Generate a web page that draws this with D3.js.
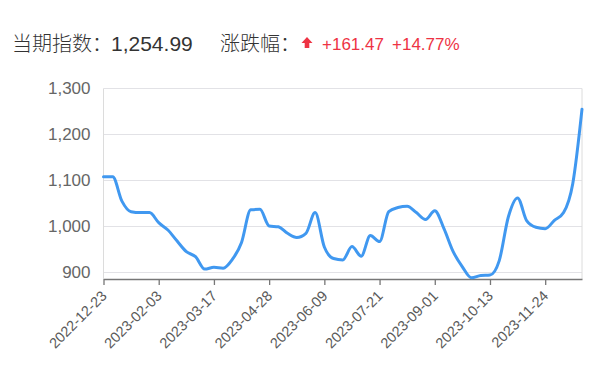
<!DOCTYPE html>
<html>
<head>
<meta charset="utf-8">
<script src="https://cdn.jsdelivr.net/npm/d3@7"></script>
<style>
  body { margin: 0; background: #fff; }
  svg text { font-family: "Helvetica Neue", Arial, "Liberation Sans", "Noto Sans CJK SC", sans-serif; }
</style>
</head>
<body>
<div id="chart"></div>
<script>
// weekly index values, starting 2022-12-23
const startDate = '2022-12-23'
const values = [
  1108, 1108, 1055, 1032, 1030, 1030, 1008, 992, 968, 945,
  934, 907, 911, 909, 928, 965, 1036, 1037, 1001, 999,
  985, 976, 985, 1030, 955, 930, 927, 956, 935, 980,
  967, 1032, 1041, 1044, 1030, 1015, 1034, 995, 945, 912,
  888, 893, 894, 925, 1021, 1062, 1012, 998, 995, 1013,
  1030, 1093.52, 1254.99
]
const tickLabels = ['2022-12-23', '2023-02-03', '2023-03-17', '2023-04-28', '2023-06-09',
  '2023-07-21', '2023-09-01', '2023-10-13', '2023-11-24']
const yTicks = [900, 1000, 1100, 1200, 1300]
const current = '1,254.99'
const change = '+161.47'
const changePct = '+14.77%'

const W = 600, H = 378
const MARGIN = { LEFT: 103.5, RIGHT: 18, TOP: 88.5, BOTTOM: 99 }
const WIDTH = W - MARGIN.LEFT - MARGIN.RIGHT
const HEIGHT = H - MARGIN.TOP - MARGIN.BOTTOM

const parse = d3.timeParse('%Y-%m-%d')
const start = parse(startDate)
const data = values.map((v, i) => ({ date: d3.timeDay.offset(start, 7 * i), value: v }))

const svg = d3.select('#chart').append('svg')
  .attr('width', W)
  .attr('height', H)

// header
const head = svg.append('text').attr('y', 51).attr('fill', '#333')
head.append('tspan').attr('x', 12).attr('font-size', '20px')
  .attr('font-family', '"Noto Sans CJK SC", sans-serif').attr('font-weight', 300).text('当期指数：')
head.append('tspan').attr('x', 111).attr('font-size', '21px').text(current)
head.append('tspan').attr('x', 220).attr('font-size', '20px')
  .attr('font-family', '"Noto Sans CJK SC", sans-serif').attr('font-weight', 300).text('涨跌幅：')

const red = '#ee3344'
svg.append('path')
  .attr('d', 'M307,37 L312.5,43 L309.3,43 L309.3,48 L304.7,48 L304.7,43 L301.5,43 Z')
  .attr('fill', red)
svg.append('text').attr('x', 322).attr('y', 50).attr('font-size', '17px')
  .attr('fill', red).text(change)
svg.append('text').attr('x', 392).attr('y', 50).attr('font-size', '17px')
  .attr('fill', red).text(changePct)

const g = svg.append('g')
  .attr('transform', `translate(${MARGIN.LEFT}, ${MARGIN.TOP})`)

const x = d3.scaleTime()
  .domain(d3.extent(data, d => d.date))
  .range([0, WIDTH])

const y = d3.scaleLinear()
  .domain([885.5, 1300])
  .range([HEIGHT, 0])

// grid lines
g.selectAll('.grid').data(yTicks).enter()
  .append('line')
  .attr('class', 'grid')
  .attr('x1', 0).attr('x2', WIDTH)
  .attr('y1', d => Math.round(y(d)) + 0.5 - MARGIN.TOP % 1)
  .attr('y2', d => Math.round(y(d)) + 0.5 - MARGIN.TOP % 1)
  .attr('stroke', '#e2e2e6')
  .attr('stroke-width', 1)

// left / right borders
g.append('line').attr('x1', 0).attr('x2', 0).attr('y1', 0).attr('y2', HEIGHT)
  .attr('stroke', '#dcdcdc')
g.append('line').attr('x1', WIDTH).attr('x2', WIDTH).attr('y1', 0).attr('y2', HEIGHT)
  .attr('stroke', '#dcdcdc')

// y axis labels
g.selectAll('.ylab').data(yTicks).enter()
  .append('text')
  .attr('class', 'ylab')
  .attr('x', -13)
  .attr('y', d => y(d))
  .attr('dy', '0.35em')
  .attr('text-anchor', 'end')
  .attr('font-size', '17px')
  .attr('fill', '#666')
  .text(d => d3.format(',')(d))

// x axis
const tickDates = tickLabels.map(parse)
const xAxisCall = d3.axisBottom(x)
  .tickValues(tickDates)
  .tickSize(6)
  .tickSizeOuter(0)
  .tickFormat(d3.timeFormat('%Y-%m-%d'))
const xAxis = g.append('g')
  .attr('transform', `translate(0, ${HEIGHT})`)
  .call(xAxisCall)
xAxis.select('.domain').attr('stroke', '#777').attr('stroke-width', 1.3)
xAxis.selectAll('.tick line').attr('stroke', '#777').attr('stroke-width', 1.3)
xAxis.selectAll('text')
  .attr('font-size', '14.5px')
  .attr('fill', '#5a5a5a')
  .attr('font-family', '"Helvetica Neue", Arial, "Liberation Sans", sans-serif')
  .attr('text-anchor', 'end')
  .attr('x', -10)
  .attr('y', 10)
  .attr('dy', '0.35em')
  .attr('transform', 'rotate(-45)')

// line
const line = d3.line()
  .x(d => x(d.date))
  .y(d => y(d.value))
  .curve(d3.curveMonotoneX)

g.append('path')
  .datum(data)
  .attr('d', line)
  .attr('fill', 'none')
  .attr('stroke', '#4098f0')
  .attr('stroke-width', 3)
  .attr('stroke-linejoin', 'round')
  .attr('stroke-linecap', 'round')
</script>
</body>
</html>
